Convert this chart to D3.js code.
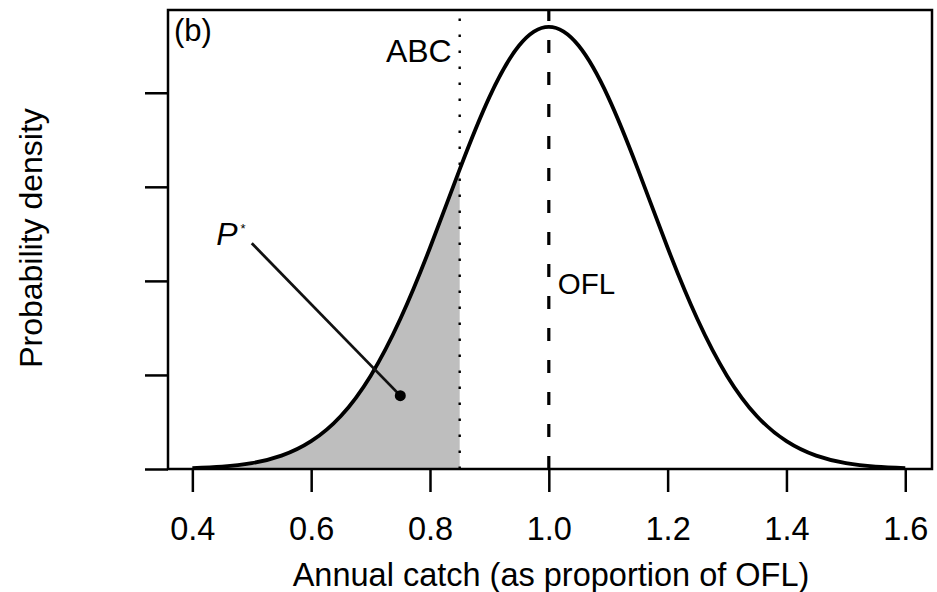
<!DOCTYPE html>
<html>
<head>
<meta charset="utf-8">
<script src="https://cdn.jsdelivr.net/npm/d3@7"></script>
<style>
  body { margin: 0; background: #fff; }
  text { font-family: "Liberation Sans", Arial, sans-serif; fill: #000; }
</style>
</head>
<body>
<div id="chart-area"></div>
<script>
// values
var catchX = [0.40, 0.45, 0.50, 0.55, 0.60, 0.65, 0.70, 0.75, 0.80, 0.85, 0.90, 0.95, 1.00,
              1.05, 1.10, 1.15, 1.20, 1.25, 1.30, 1.35, 1.40, 1.45, 1.50, 1.55, 1.60];
var density = [0.005, 0.013, 0.031, 0.071, 0.148, 0.282, 0.495, 0.797, 1.176, 1.593, 1.977, 2.251, 2.350,
               2.251, 1.977, 1.593, 1.176, 0.797, 0.495, 0.282, 0.148, 0.071, 0.031, 0.013, 0.005];
var xTicks = [0.4, 0.6, 0.8, 1.0, 1.2, 1.4, 1.6];
var yTicks = [0, 0.5, 1.0, 1.5, 2.0];
var abc = 0.85;
var ofl = 1.0;
var pStar = {x: 0.75, y: 0.39};      // point
var pLabel = {x: 0.50, y: 1.20};     // start of pointer line

var margin = {top: 10, right: 5, bottom: 123, left: 168};
var width = 937 - margin.left - margin.right;
var height = 592 - margin.top - margin.bottom;

var data = catchX.map(function(d, i) { return {x: d, y: density[i]}; });

var x = d3.scaleLinear().domain([0.359, 1.645]).range([0, width]);
var y = d3.scaleLinear().domain([0, 2.44]).range([height, 0]);

var svg = d3.select("#chart-area")
  .append("svg")
    .attr("width", 937)
    .attr("height", 592);

var g = svg.append("g")
    .attr("transform", "translate(" + margin.left + ", " + margin.top + ")");

g.append("clipPath")
    .attr("id", "shade-clip")
  .append("rect")
    .attr("x", 0)
    .attr("y", 0)
    .attr("width", x(abc))
    .attr("height", height);

// shaded tail up to ABC
var area = d3.area()
    .x(function(d) { return x(d.x); })
    .y0(y(0))
    .y1(function(d) { return y(d.y); })
    .curve(d3.curveNatural);

g.append("path")
    .datum(data)
    .attr("d", area)
    .attr("fill", "#bebebe")
    .attr("clip-path", "url(#shade-clip)");

// ABC dotted, OFL dashed
g.append("line")
    .attr("x1", x(abc)).attr("x2", x(abc))
    .attr("y1", height).attr("y2", 0)
    .attr("stroke", "#000")
    .attr("stroke-width", 2.4)
    .attr("stroke-dasharray", "2.4,13.6");

g.append("line")
    .attr("x1", x(ofl)).attr("x2", x(ofl))
    .attr("y1", height).attr("y2", 0)
    .attr("stroke", "#000")
    .attr("stroke-width", 3.2)
    .attr("stroke-dasharray", "13,19");

var line = d3.line()
    .x(function(d) { return x(d.x); })
    .y(function(d) { return y(d.y); })
    .curve(d3.curveNatural);

g.append("path")
    .datum(data)
    .attr("d", line)
    .attr("fill", "none")
    .attr("stroke", "#000")
    .attr("stroke-width", 3.8);

// pointer for P*
g.append("line")
    .attr("x1", x(pLabel.x)).attr("y1", y(pLabel.y))
    .attr("x2", x(pStar.x)).attr("y2", y(pStar.y))
    .attr("stroke", "#111")
    .attr("stroke-width", 2.8);

g.append("circle")
    .attr("cx", x(pStar.x))
    .attr("cy", y(pStar.y))
    .attr("r", 5.5)
    .attr("fill", "#000");

var pText = g.append("text")
    .attr("x", x(0.465))
    .attr("y", y(1.19))
    .attr("text-anchor", "middle")
    .attr("font-size", "32px")
    .attr("font-style", "italic");
pText.append("tspan").text("P");
pText.append("tspan")
    .attr("font-size", "13px")
    .attr("font-style", "normal")
    .attr("dy", "-0.9em")
    .attr("dx", "3px")
    .text("*");

g.append("text")
    .attr("x", x(abc) - 8)
    .attr("y", 51.7)
    .attr("text-anchor", "end")
    .attr("font-size", "32px")
    .text("ABC");

g.append("text")
    .attr("x", x(ofl) + 9)
    .attr("y", 283.5)
    .attr("font-size", "29.5px")
    .text("OFL");

g.append("text")
    .attr("x", 6)
    .attr("y", 31)
    .attr("font-size", "31px")
    .text("(b)");

// axes
var xAxisGroup = g.append("g")
    .attr("transform", "translate(0, " + height + ")")
    .call(d3.axisBottom(x)
        .tickValues(xTicks)
        .tickSize(23)
        .tickPadding(25)
        .tickFormat(d3.format(".1f")));
xAxisGroup.select(".domain").remove();
xAxisGroup.selectAll("line").attr("stroke-width", 2.5);
xAxisGroup.selectAll("text")
    .attr("font-size", "32.5px")
    .attr("font-family", "Liberation Sans, Arial, sans-serif");

var yAxisGroup = g.append("g")
    .call(d3.axisLeft(y)
        .tickValues(yTicks)
        .tickSize(23)
        .tickFormat(""));
yAxisGroup.select(".domain").remove();
yAxisGroup.selectAll("line").attr("stroke-width", 2.5);

// box
g.append("rect")
    .attr("x", 0)
    .attr("y", 0)
    .attr("width", width)
    .attr("height", height)
    .attr("fill", "none")
    .attr("stroke", "#000")
    .attr("stroke-width", 2.5);

g.append("text")
    .attr("x", 551 - margin.left)
    .attr("y", height + 117)
    .attr("text-anchor", "middle")
    .attr("font-size", "32.5px")
    .text("Annual catch (as proportion of OFL)");

g.append("text")
    .attr("transform", "rotate(-90)")
    .attr("x", -(238 - margin.top))
    .attr("y", -126)
    .attr("text-anchor", "middle")
    .attr("font-size", "32px")
    .text("Probability density");
</script>
</body>
</html>
